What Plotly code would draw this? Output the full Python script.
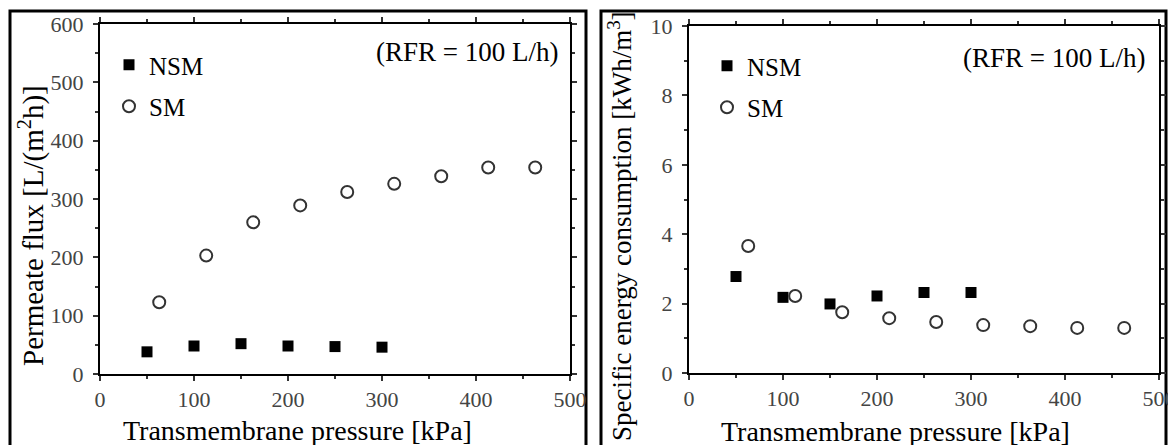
import plotly.graph_objects as go

# ---- data ----
nsm_tmp = [50, 100, 150, 200, 250, 300]
nsm_flux = [38, 48, 52, 48, 47, 46]
sm_tmp = [63, 113, 163, 213, 263, 313, 363, 413, 463]
sm_flux = [123, 203, 260, 289, 312, 326, 339, 354, 354]
nsm_sec = [2.78, 2.18, 1.99, 2.22, 2.32, 2.32]
sm_sec = [3.66, 2.22, 1.75, 1.58, 1.47, 1.38, 1.35, 1.30, 1.30]

x_ticks = [0, 100, 200, 300, 400, 500]
flux_ticks = [0, 100, 200, 300, 400, 500, 600]
sec_ticks = [0, 2, 4, 6, 8, 10]

W, H = 1176, 445
OFF = 8  # page margin of the browser body
SERIF = "Liberation Serif"

def px(x):
    return (x - OFF) / W

def py(y):
    return (H - (y - OFF)) / H

fig = go.Figure()

sq = dict(symbol="square", size=11, color="black", line=dict(width=0))
circ = dict(symbol="circle-open", size=12, color="#333", line=dict(width=2, color="#333"))

fig.add_trace(go.Scatter(x=nsm_tmp, y=nsm_flux, mode="markers", name="NSM", marker=sq,
                         xaxis="x", yaxis="y", legend="legend", legendgroup="a"))
fig.add_trace(go.Scatter(x=sm_tmp, y=sm_flux, mode="markers", name="SM", marker=circ,
                         xaxis="x", yaxis="y", legend="legend", legendgroup="b"))
fig.add_trace(go.Scatter(x=nsm_tmp, y=nsm_sec, mode="markers", name="NSM", marker=sq,
                         xaxis="x2", yaxis="y2", legend="legend2", legendgroup="c"))
fig.add_trace(go.Scatter(x=sm_tmp, y=sm_sec, mode="markers", name="SM", marker=circ,
                         xaxis="x2", yaxis="y2", legend="legend2", legendgroup="d"))

axis_common = dict(
    showline=True, linecolor="black", linewidth=2, mirror="allticks",
    ticks="outside", ticklen=5, tickwidth=1.5, tickcolor="#333",
    showgrid=False, zeroline=False, automargin=False,
    tickfont=dict(family=SERIF, size=22, color="#444"),
)

fig.update_layout(
    width=W, height=H,
    margin=dict(l=0, r=0, t=0, b=0, autoexpand=False),
    paper_bgcolor="white", plot_bgcolor="white",
    font=dict(family=SERIF),
    xaxis=dict(axis_common, domain=[px(100), px(570)], range=[0, 500], tickvals=x_ticks,
               anchor="y", minor=dict(dtick=50, ticks="outside", ticklen=3, tickcolor="#333")),
    yaxis=dict(axis_common, domain=[py(374), py(24)], range=[0, 600], tickvals=flux_ticks,
               anchor="x", ticklabelstandoff=5,
               minor=dict(dtick=50, ticks="outside", ticklen=3, tickcolor="#333")),
    xaxis2=dict(axis_common, domain=[px(689), px(1159)], range=[0, 500], tickvals=x_ticks,
                anchor="y2", minor=dict(dtick=50, ticks="outside", ticklen=3, tickcolor="#333")),
    yaxis2=dict(axis_common, domain=[py(373), py(26)], range=[0, 10], tickvals=sec_ticks,
                anchor="x2", ticklabelstandoff=5,
                minor=dict(dtick=1, ticks="outside", ticklen=3, tickcolor="#333")),
    legend=dict(x=px(109), y=py(42), xanchor="left", yanchor="top",
                font=dict(family=SERIF, size=25, color="black"),
                bgcolor="rgba(0,0,0,0)", tracegroupgap=6, traceorder="grouped"),
    legend2=dict(x=px(707), y=py(43), xanchor="left", yanchor="top",
                 font=dict(family=SERIF, size=25, color="black"),
                 bgcolor="rgba(0,0,0,0)", tracegroupgap=6, traceorder="grouped"),
    showlegend=True,
)

# outer panel boxes
fig.add_shape(type="rect", xref="paper", yref="paper", x0=px(10), x1=px(586), y0=py(447), y1=py(11),
              line=dict(color="black", width=3), layer="below")
fig.add_shape(type="rect", xref="paper", yref="paper", x0=px(601), x1=px(1166), y0=py(447), y1=py(11),
              line=dict(color="black", width=3), layer="below")

ann_font = dict(family=SERIF, size=27, color="black")
title_font = dict(family=SERIF, size=28, color="black")
fig.add_annotation(x=px(561), y=py(52), xref="paper", yref="paper", text="(RFR = 100 L/h)",
                   showarrow=False, xanchor="right", yanchor="middle", font=ann_font)
fig.add_annotation(x=px(1148), y=py(58), xref="paper", yref="paper", text="(RFR = 100 L/h)",
                   showarrow=False, xanchor="right", yanchor="middle", font=ann_font)
fig.add_annotation(x=px(297), y=py(430), xref="paper", yref="paper", text="Transmembrane pressure [kPa]",
                   showarrow=False, xanchor="center", yanchor="middle", font=title_font)
fig.add_annotation(x=px(896), y=py(431), xref="paper", yref="paper", text="Transmembrane pressure [kPa]",
                   showarrow=False, xanchor="center", yanchor="middle", font=title_font)
fig.add_annotation(x=px(31), y=py(226), xref="paper", yref="paper", text="Permeate flux [L/(m<sup>2</sup>h)]",
                   showarrow=False, xanchor="center", yanchor="middle", textangle=-90,
                   font=dict(family=SERIF, size=29, color="black"))
fig.add_annotation(x=px(620), y=py(226), xref="paper", yref="paper",
                   text="Specific energy consumption [kWh/m<sup>3</sup>]",
                   showarrow=False, xanchor="center", yanchor="middle", textangle=-90,
                   font=dict(family=SERIF, size=27, color="black"))

fig.write_html("out.html")
